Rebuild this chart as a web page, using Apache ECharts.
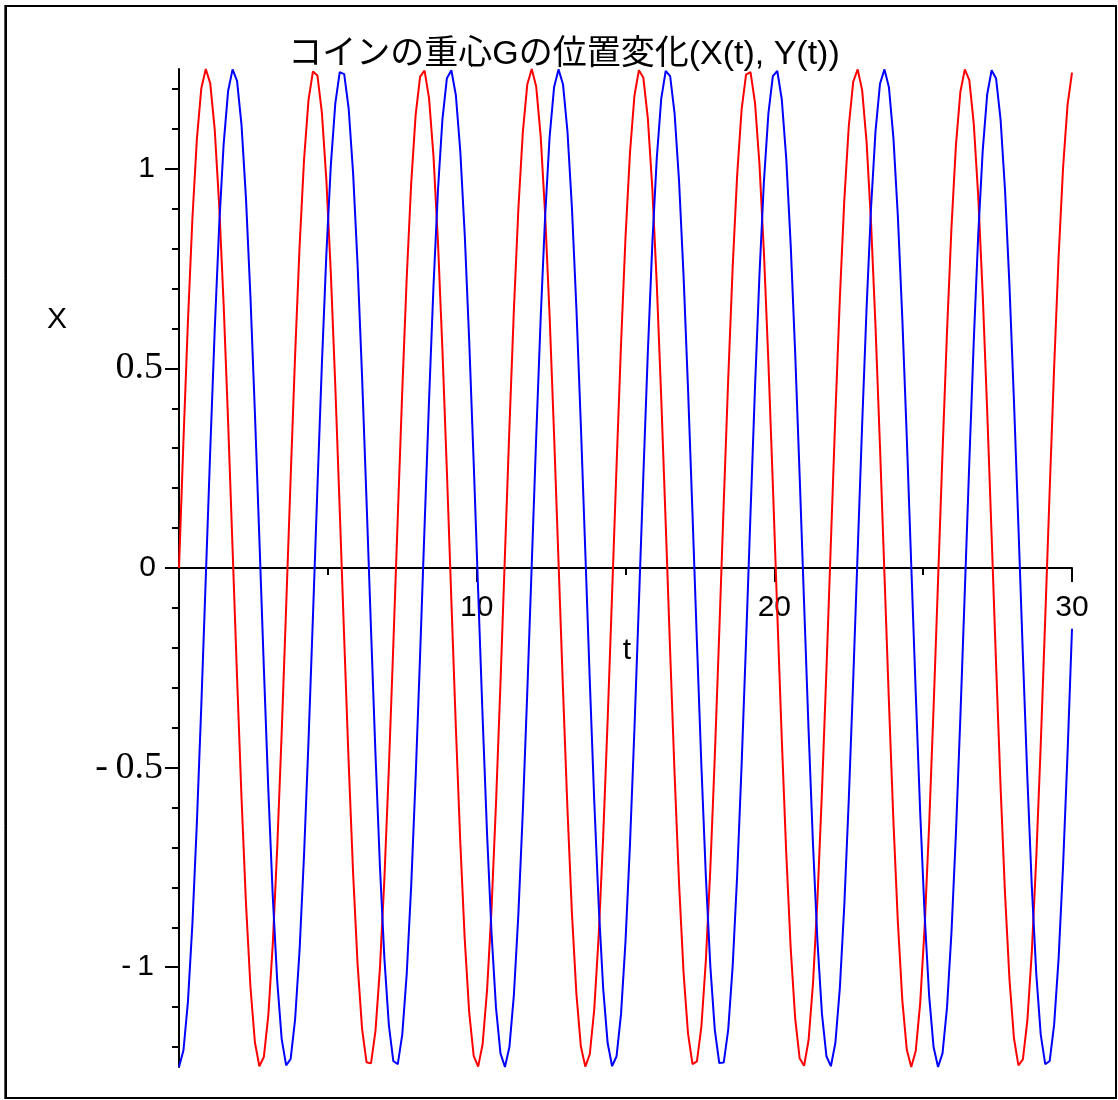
<!DOCTYPE html>
<html>
<head>
<meta charset="utf-8">
<script src="https://cdn.jsdelivr.net/npm/echarts@6/dist/echarts.min.js"></script>
<style>
  html, body { margin: 0; padding: 0; background: #fff; }
  #chart { width: 1118px; height: 1100px; }
</style>
</head>
<body>
<div id="chart"></div>
<script>
// sample times t
var tVals = [
  0, 0.15, 0.3, 0.45, 0.6, 0.75, 0.9, 1.05, 1.2, 1.35,
  1.5, 1.65, 1.8, 1.95, 2.1, 2.25, 2.4, 2.55, 2.7, 2.85,
  3, 3.15, 3.3, 3.45, 3.6, 3.75, 3.9, 4.05, 4.2, 4.35,
  4.5, 4.65, 4.8, 4.95, 5.1, 5.25, 5.4, 5.55, 5.7, 5.85,
  6, 6.15, 6.3, 6.45, 6.6, 6.75, 6.9, 7.05, 7.2, 7.35,
  7.5, 7.65, 7.8, 7.95, 8.1, 8.25, 8.4, 8.55, 8.7, 8.85,
  9, 9.15, 9.3, 9.45, 9.6, 9.75, 9.9, 10.05, 10.2, 10.35,
  10.5, 10.65, 10.8, 10.95, 11.1, 11.25, 11.4, 11.55, 11.7, 11.85,
  12, 12.15, 12.3, 12.45, 12.6, 12.75, 12.9, 13.05, 13.2, 13.35,
  13.5, 13.65, 13.8, 13.95, 14.1, 14.25, 14.4, 14.55, 14.7, 14.85,
  15, 15.15, 15.3, 15.45, 15.6, 15.75, 15.9, 16.05, 16.2, 16.35,
  16.5, 16.65, 16.8, 16.95, 17.1, 17.25, 17.4, 17.55, 17.7, 17.85,
  18, 18.15, 18.3, 18.45, 18.6, 18.75, 18.9, 19.05, 19.2, 19.35,
  19.5, 19.65, 19.8, 19.95, 20.1, 20.25, 20.4, 20.55, 20.7, 20.85,
  21, 21.15, 21.3, 21.45, 21.6, 21.75, 21.9, 22.05, 22.2, 22.35,
  22.5, 22.65, 22.8, 22.95, 23.1, 23.25, 23.4, 23.55, 23.7, 23.85,
  24, 24.15, 24.3, 24.45, 24.6, 24.75, 24.9, 25.05, 25.2, 25.35,
  25.5, 25.65, 25.8, 25.95, 26.1, 26.25, 26.4, 26.55, 26.7, 26.85,
  27, 27.15, 27.3, 27.45, 27.6, 27.75, 27.9, 28.05, 28.2, 28.35,
  28.5, 28.65, 28.8, 28.95, 29.1, 29.25, 29.4, 29.55, 29.7, 29.85,
  30
];

// X(t) - red curve
var xVals = [
  0, 0.320, 0.618, 0.875, 1.074, 1.202, 1.250, 1.214, 1.098, 0.909,
  0.660, 0.366, 0.048, -0.273, -0.575, -0.840, -1.049, -1.188, -1.248, -1.225,
  -1.121, -0.942, -0.700, -0.412, -0.097, 0.225, 0.532, 0.804, 1.022, 1.172,
  1.244, 1.234, 1.141, 0.973, 0.740, 0.458, 0.145, -0.177, -0.488, -0.766,
  -0.993, -1.154, -1.238, -1.241, -1.160, -1.003, -0.778, -0.502, -0.193, 0.129,
  0.443, 0.727, 0.963, 1.135, 1.231, 1.246, 1.177, 1.031, 0.816, 0.546,
  0.241, -0.081, -0.397, -0.687, -0.931, -1.114, -1.222, -1.249, -1.193, -1.057,
  -0.852, -0.589, -0.288, 0.033, 0.351, 0.646, 0.898, 1.091, 1.211, 1.250,
  1.206, 1.082, 0.886, 0.632, 0.335, 0.016, -0.304, -0.604, -0.864, -1.066,
  -1.198, -1.249, -1.218, -1.106, -0.920, -0.673, -0.381, -0.064, 0.257, 0.561,
  0.828, 1.040, 1.183, 1.247, 1.228, 1.127, 0.952, 0.713, 0.427, 0.113,
  -0.210, -0.518, -0.791, -1.013, -1.166, -1.243, -1.236, -1.148, -0.983, -0.753,
  -0.472, -0.161, 0.162, 0.473, 0.753, 0.983, 1.148, 1.236, 1.242, 1.166,
  1.012, 0.791, 0.517, 0.209, -0.114, -0.428, -0.714, -0.953, -1.128, -1.228,
  -1.247, -1.183, -1.040, -0.828, -0.560, -0.256, 0.065, 0.382, 0.674, 0.921,
  1.106, 1.218, 1.249, 1.197, 1.066, 0.863, 0.603, 0.303, -0.017, -0.336,
  -0.633, -0.887, -1.083, -1.207, -1.250, -1.210, -1.090, -0.898, -0.645, -0.350,
  -0.032, 0.289, 0.590, 0.852, 1.058, 1.193, 1.249, 1.222, 1.113, 0.931,
  0.686, 0.396, 0.080, -0.242, -0.547, -0.816, -1.031, -1.178, -1.246, -1.231,
  -1.134, -0.962, -0.726, -0.442, -0.128, 0.194, 0.503, 0.779, 1.003, 1.160,
  1.241
];

// Y(t) - blue curve
var yVals = [
  -1.250, -1.208, -1.087, -0.892, -0.639, -0.343, -0.024, 0.296, 0.597, 0.858,
  1.062, 1.195, 1.249, 1.220, 1.110, 0.926, 0.680, 0.389, 0.073, -0.249,
  -0.554, -0.822, -1.035, -1.180, -1.246, -1.230, -1.131, -0.958, -0.720, -0.435,
  -0.121, 0.201, 0.510, 0.785, 1.008, 1.163, 1.242, 1.237, 1.151, 0.988,
  0.759, 0.480, 0.169, -0.153, -0.465, -0.747, -0.978, -1.145, -1.235, -1.243,
  -1.169, -1.017, -0.797, -0.524, -0.217, 0.105, 0.420, 0.707, 0.947, 1.124,
  1.227, 1.247, 1.185, 1.044, 0.834, 0.568, 0.264, -0.057, -0.374, -0.667,
  -0.915, -1.102, -1.216, -1.250, -1.200, -1.070, -0.869, -0.611, -0.311, 0.008,
  0.328, 0.625, 0.881, 1.079, 1.204, 1.249, 1.212, 1.094, 0.903, 0.652,
  0.358, 0.040, -0.281, -0.583, -0.846, -1.053, -1.190, -1.248, -1.223, -1.117,
  -0.936, -0.693, -0.404, -0.088, 0.233, 0.540, 0.810, 1.026, 1.175, 1.245,
  1.232, 1.138, 0.968, 0.733, 0.450, 0.137, -0.186, -0.496, -0.773, -0.998,
  -1.157, -1.240, -1.239, -1.157, -0.998, -0.772, -0.495, -0.185, 0.138, 0.451,
  0.734, 0.968, 1.138, 1.232, 1.245, 1.174, 1.026, 0.809, 0.539, 0.232,
  -0.089, -0.405, -0.694, -0.937, -1.117, -1.223, -1.248, -1.190, -1.053, -0.846,
  -0.582, -0.280, 0.041, 0.359, 0.653, 0.904, 1.095, 1.213, 1.249, 1.204,
  1.078, 0.881, 0.624, 0.327, 0.007, -0.312, -0.612, -0.870, -1.071, -1.200,
  -1.250, -1.216, -1.102, -0.914, -0.666, -0.373, -0.056, 0.265, 0.569, 0.835,
  1.045, 1.186, 1.247, 1.226, 1.124, 0.947, 0.706, 0.419, 0.104, -0.218,
  -0.525, -0.798, -1.017, -1.169, -1.243, -1.235, -1.144, -0.978, -0.746, -0.465,
  -0.152
];

var xTickLabels = [10, 20, 30];
var yTickLabels = [-1, -0.5, 0, 0.5, 1];
var yMinorTicks = [-1.2, -1.1, -1, -0.9, -0.8, -0.7, -0.6, -0.5, -0.4, -0.3, -0.2, -0.1, 0,
  0.1, 0.2, 0.3, 0.4, 0.5, 0.6, 0.7, 0.8, 0.9, 1, 1.1, 1.2];

function pairs(vals) {
  return tVals.map(function (t, i) { return [t, vals[i]]; });
}

var axisColor = '#000';
var tickStyle = { color: axisColor, width: 2 };
var chart = echarts.init(document.getElementById('chart'), null, { renderer: 'canvas' });
chart.setOption({
  animation: false,
  backgroundColor: '#fff',
  grid: { left: 179, right: 46, top: 69, bottom: 33, containLabel: false, outerBoundsMode: 'none' },
  xAxis: {
    type: 'value', min: 0, max: 30, interval: 10, position: 'bottom',
    offset: -499,   // move the t axis up to y = 0
    axisLine: { onZero: false, lineStyle: tickStyle },
    axisTick: { length: 14, lineStyle: tickStyle },
    minorTick: { show: true, splitNumber: 2, length: 7, lineStyle: tickStyle },
    splitLine: { show: false },
    axisLabel: { customValues: xTickLabels, margin: 25, color: '#000', fontFamily: 'Liberation Sans', fontSize: 30 }
  },
  yAxis: [{
    type: 'value', min: -1.25, max: 1.25, position: 'left',
    axisLine: { onZero: false, lineStyle: tickStyle },
    axisTick: { customValues: yTickLabels, length: 14, lineStyle: tickStyle },
    splitLine: { show: false },
    axisLabel: {
      customValues: yTickLabels, margin: 16, color: '#000',
      formatter: function (v) {
        if (v === 0) return '{z|0}';
        if (v === 1) return '{s|1}';
        if (v === -1) return '{n|-\u20091}';
        return '{r|' + (v < 0 ? '-\u2009' : '') + Math.abs(v) + '}';
      },
      rich: {
        s: { fontFamily: 'Liberation Sans', fontSize: 30, color: '#000', padding: [0, 8, 0, 0] },
        n: { fontFamily: 'Liberation Sans', fontSize: 30, color: '#000', padding: [0, 9, 0, 0] },
        z: { fontFamily: 'Liberation Sans', fontSize: 30, color: '#000', padding: [0, 7, 0, 0] },
        r: { fontFamily: 'Liberation Serif', fontSize: 38, color: '#000' }
      }
    }
  }, {
    type: 'value', min: -1.25, max: 1.25, position: 'left',
    axisLine: { show: false },
    axisTick: { customValues: yMinorTicks, length: 7, lineStyle: tickStyle },
    axisLabel: { show: false },
    splitLine: { show: false }
  }],
  series: [
    { name: 'X(t)', type: 'line', data: pairs(xVals), showSymbol: false, yAxisIndex: 0,
      lineStyle: { color: '#ff0000', width: 2 }, itemStyle: { color: '#ff0000' } },
    { name: 'Y(t)', type: 'line', data: pairs(yVals), showSymbol: false, yAxisIndex: 0,
      lineStyle: { color: '#0000ff', width: 2 }, itemStyle: { color: '#0000ff' } }
  ],
  graphic: [
    { type: 'rect', silent: true, shape: { x: 6, y: 6, width: 1110, height: 1092 },
      style: { fill: 'none', stroke: '#000', lineWidth: 2 } },
    { type: 'line', silent: true, shape: { x1: 4.5, y1: 5, x2: 4.5, y2: 1099 },
      style: { stroke: '#555', lineWidth: 1 } },
    { type: 'text', silent: true, x: 564, y: 55,
      style: { text: 'コインの重心Gの位置変化(X(t), Y(t))', font: '34px "Liberation Sans", "Noto Sans CJK JP"',
        fill: '#000', align: 'center', verticalAlign: 'middle' } },
    { type: 'text', silent: true, x: 57, y: 320,
      style: { text: 'X', font: '30px "Liberation Sans"', fill: '#000', align: 'center', verticalAlign: 'middle' } },
    { type: 'text', silent: true, x: 627, y: 651,
      style: { text: 't', font: '30px "Liberation Sans"', fill: '#000', align: 'center', verticalAlign: 'middle' } }
  ]
});
window.addEventListener('resize', function () { chart.resize(); });
</script>
</body>
</html>
